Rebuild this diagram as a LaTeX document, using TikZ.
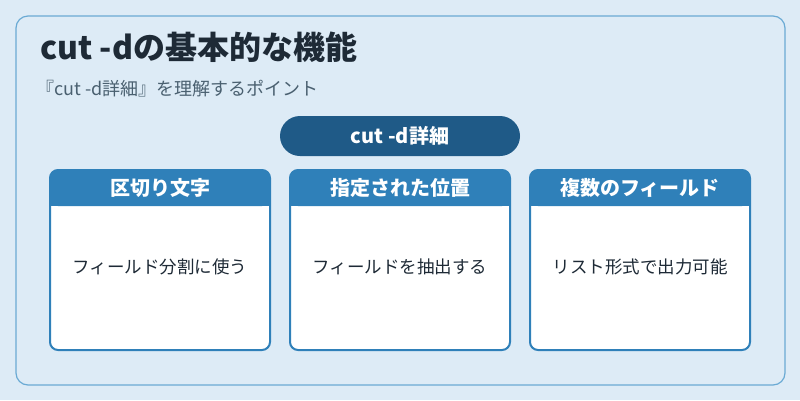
\documentclass[tikz,border=0pt]{standalone}
\usepackage{fontspec}
\setmainfont{Noto Sans CJK JP}
\begin{document}
\begin{tikzpicture}[x=1pt,y=-1pt,
  card/.style={draw=cardblue,line width=2pt,fill=white,rounded corners=8pt},
  head/.style={fill=cardblue,rounded corners=8pt},
  htext/.style={text=white,font=\fontsize{20}{22}\selectfont\bfseries},
  btext/.style={text=textdark,font=\fontsize{17.5}{20}\selectfont}]
\definecolor{bg}{HTML}{DDEBF6}
\definecolor{panelborder}{HTML}{6AAAD4}
\definecolor{cardblue}{HTML}{2F80B9}
\definecolor{pill}{HTML}{1F5A87}
\definecolor{textdark}{HTML}{1E2A36}
\definecolor{subtext}{HTML}{4A6070}
\fill[bg] (0,0) rectangle (800,400);
\useasboundingbox (0,0) rectangle (800,400);
\draw[panelborder,line width=1.2pt,rounded corners=12pt] (16,16) rectangle (785,385);
\node[anchor=west,inner sep=0pt,text=textdark,font=\fontsize{32}{36}\selectfont\bfseries] (title) at (40,47) {cut -dの基本的な機能};
\node[anchor=west,inner sep=0pt,text=subtext,font=\fontsize{18}{20}\selectfont] (sub) at (36,89) {『cut -d詳細』を理解するポイント};
\fill[pill,rounded corners=20pt] (280,116) rectangle (520,156);
\node[htext] (pilltext) at (400,136) {cut -d詳細};
\foreach \x/\h/\b/\n in {50/区切り文字/フィールド分割に使う/a,290/指定された位置/フィールドを抽出する/b,530/複数のフィールド/リスト形式で出力可能/c}{
  \draw[card] (\x,170) rectangle ++(220,180);
  \fill[head] (\x,170) rectangle ++(220,36);
  \fill[cardblue] (\x,196) rectangle ++(220,10);
  \node[htext] (h\n) at (\x+110,188) {\h};
  \node[btext] (b\n) at (\x+110,267) {\b};
}
\end{tikzpicture}
\end{document}
